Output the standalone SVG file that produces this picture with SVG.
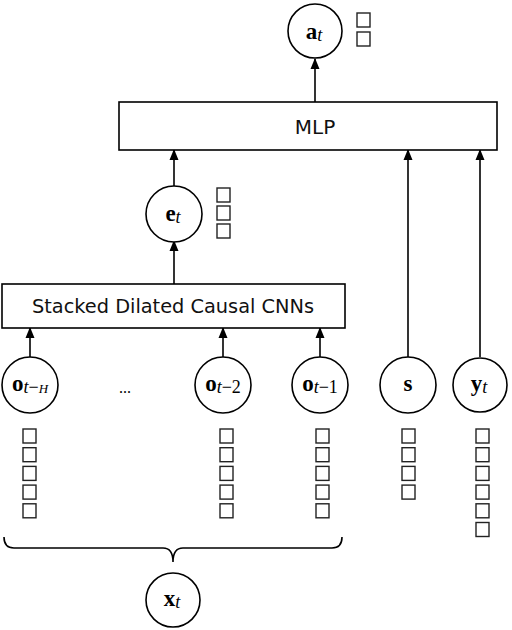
<svg xmlns="http://www.w3.org/2000/svg" width="512" height="630" viewBox="0 0 512 630">
<style>
.node{fill:#fff;stroke:#000;stroke-width:1.6}
.box{fill:#fff;stroke:#000;stroke-width:1.6}
.edge{stroke:#000;stroke-width:1.6;fill:none}
.lbl{font-family:"DejaVu Sans","Liberation Sans",sans-serif;font-size:20px;fill:#111;text-anchor:middle}
.m{font-family:"Liberation Serif","DejaVu Serif",serif;font-size:23px;font-weight:bold;fill:#000;text-anchor:middle}
.sub{font-weight:normal;font-style:italic;font-size:18px}
.up{font-weight:normal;font-style:normal;font-size:18px}
.sub2{font-weight:normal;font-style:italic;font-size:13px}
.tofu{fill:none;stroke:#222;stroke-width:1.4}
</style>
<defs>
<marker id="ah" markerWidth="11" markerHeight="11" refX="10" refY="5.5" orient="auto" markerUnits="userSpaceOnUse">
<path d="M0,1 L11,5.5 L0,10 Z" fill="#000"/>
</marker>
</defs>
<g id="connectors">
<line class="edge" x1="315" y1="102" x2="315" y2="59" marker-end="url(#ah)"/>
<line class="edge" x1="174" y1="186" x2="174" y2="150" marker-end="url(#ah)"/>
<line class="edge" x1="174" y1="284" x2="174" y2="241" marker-end="url(#ah)"/>
<line class="edge" x1="408" y1="357" x2="408" y2="150" marker-end="url(#ah)"/>
<line class="edge" x1="480" y1="357" x2="480" y2="150" marker-end="url(#ah)"/>
<line class="edge" x1="30" y1="357" x2="30" y2="328" marker-end="url(#ah)"/>
<line class="edge" x1="223" y1="357" x2="223" y2="328" marker-end="url(#ah)"/>
<line class="edge" x1="320" y1="357" x2="320" y2="328" marker-end="url(#ah)"/>
<path class="edge" stroke-width="1.2" d="M4,537 Q4,548 14,548 L163,548 Q173,548 173,562 Q173,548 183,548 L332,548 Q342,548 342,537"/>
</g>
<g id="a_t">
<circle class="node" cx="315" cy="31" r="27"/>
<text class="m" x="314" y="39">a<tspan class="sub" dy="2">t</tspan></text>
<rect class="tofu" x="357" y="13" width="13" height="14"/>
<rect class="tofu" x="357" y="32" width="13" height="14"/>
</g>
<g id="mlp">
<rect class="box" x="119" y="102" width="378" height="48"/>
<text class="lbl" x="315" y="134" font-size="22">MLP</text>
</g>
<g id="e_t">
<circle class="node" cx="174" cy="214" r="28"/>
<text class="m" x="173" y="221">e<tspan class="sub" dy="2">t</tspan></text>
<rect class="tofu" x="217" y="188" width="13" height="14"/>
<rect class="tofu" x="217" y="206" width="13" height="14"/>
<rect class="tofu" x="217" y="224" width="13" height="14"/>
</g>
<g id="cnn">
<rect class="box" x="2" y="284" width="343" height="44"/>
<text class="lbl" x="173" y="313" textLength="282" lengthAdjust="spacingAndGlyphs">Stacked Dilated Causal CNNs</text>
</g>
<g id="o_tH">
<circle class="node" cx="30" cy="385" r="28"/>
<text class="m" x="30" y="391">o<tspan class="sub" dy="2">t</tspan><tspan class="up">−</tspan><tspan class="sub2">H</tspan></text>
</g>
<text x="125" y="393" font-family="Liberation Serif,serif" font-size="16" text-anchor="middle">...</text>
<g id="o_t2">
<circle class="node" cx="223" cy="385" r="28"/>
<text class="m" x="223" y="391">o<tspan class="sub" dy="2">t</tspan><tspan class="up">−2</tspan></text>
</g>
<g id="o_t1">
<circle class="node" cx="320" cy="385" r="28"/>
<text class="m" x="320" y="391">o<tspan class="sub" dy="2">t</tspan><tspan class="up">−1</tspan></text>
</g>
<g id="s">
<circle class="node" cx="408" cy="385" r="28"/>
<text class="m" x="408" y="391">s</text>
</g>
<g id="y_t">
<circle class="node" cx="480" cy="385" r="27"/>
<text class="m" x="479" y="391">y<tspan class="sub" dy="2">t</tspan></text>
</g>
<g id="x_t">
<circle class="node" cx="173" cy="600" r="27"/>
<text class="m" x="172" y="606">x<tspan class="sub" dy="2">t</tspan></text>
</g>
<g id="tofu_cols">
<rect class="tofu" x="23" y="429" width="13" height="14"/>
<rect class="tofu" x="23" y="447.7" width="13" height="14"/>
<rect class="tofu" x="23" y="466.4" width="13" height="14"/>
<rect class="tofu" x="23" y="485.1" width="13" height="14"/>
<rect class="tofu" x="23" y="503.8" width="13" height="14"/>
<rect class="tofu" x="220" y="429" width="13" height="14"/>
<rect class="tofu" x="220" y="447.7" width="13" height="14"/>
<rect class="tofu" x="220" y="466.4" width="13" height="14"/>
<rect class="tofu" x="220" y="485.1" width="13" height="14"/>
<rect class="tofu" x="220" y="503.8" width="13" height="14"/>
<rect class="tofu" x="316" y="429" width="13" height="14"/>
<rect class="tofu" x="316" y="447.7" width="13" height="14"/>
<rect class="tofu" x="316" y="466.4" width="13" height="14"/>
<rect class="tofu" x="316" y="485.1" width="13" height="14"/>
<rect class="tofu" x="316" y="503.8" width="13" height="14"/>
<rect class="tofu" x="402" y="429" width="13" height="14"/>
<rect class="tofu" x="402" y="447.7" width="13" height="14"/>
<rect class="tofu" x="402" y="466.4" width="13" height="14"/>
<rect class="tofu" x="402" y="485.1" width="13" height="14"/>
<rect class="tofu" x="476" y="429" width="13" height="14"/>
<rect class="tofu" x="476" y="447.7" width="13" height="14"/>
<rect class="tofu" x="476" y="466.4" width="13" height="14"/>
<rect class="tofu" x="476" y="485.1" width="13" height="14"/>
<rect class="tofu" x="476" y="503.8" width="13" height="14"/>
<rect class="tofu" x="476" y="522.5" width="13" height="14"/>
</g>
</svg>
